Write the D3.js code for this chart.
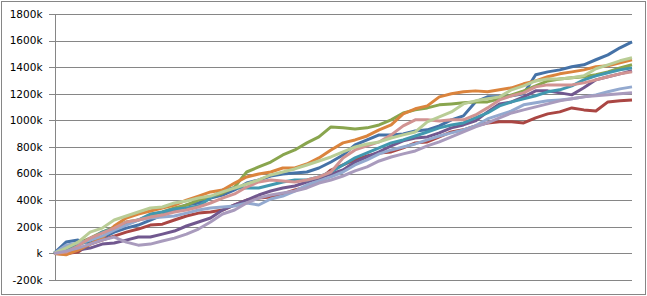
<!DOCTYPE html>
<html>
<head>
<meta charset="utf-8">
<script src="https://cdn.jsdelivr.net/npm/d3@7"></script>
<style>
  body { margin: 0; background: #fff; }
  .axis text { font-family: "DejaVu Sans", Verdana, sans-serif; font-size: 10.5px; fill: #000; }
</style>
</head>
<body>
<div class="canvas"></div>
<script>
// values in thousands at 49 evenly spaced steps
const blue = [0,85,100,78,115,160,190,213,251,288,326,364,379,416,439,477,529,552,582,597,605,612,642,687,740,816,853,891,891,898,921,929,959,1004,1034,1139,1177,1177,1185,1200,1343,1365,1380,1403,1418,1456,1493,1546,1591];
const red = [0,0,10,70,100,130,160,183,213,220,251,281,303,311,326,364,401,416,424,447,477,499,552,627,665,703,733,755,763,793,831,838,876,913,929,959,981,989,989,981,1019,1049,1064,1094,1079,1071,1139,1147,1154];
const green = [0,40,78,115,160,198,236,251,288,311,341,364,401,424,454,499,612,650,687,740,778,831,876,951,944,936,944,966,1004,1056,1079,1094,1117,1124,1132,1139,1139,1162,1192,1222,1260,1297,1312,1320,1328,1343,1365,1395,1418];
const purple = [0,-5,25,40,70,78,100,123,123,145,168,206,236,266,326,364,401,439,469,492,507,537,567,597,627,687,725,763,808,846,868,876,906,944,966,996,1064,1124,1139,1177,1222,1222,1207,1192,1245,1305,1328,1350,1373];
const teal = [0,25,62,100,160,190,220,251,296,311,334,341,356,416,477,492,492,492,514,537,552,552,575,612,665,718,755,793,831,853,883,913,944,966,981,1019,1056,1109,1139,1162,1185,1215,1230,1260,1305,1335,1358,1380,1395];
const orange = [0,-10,25,70,115,206,266,296,319,341,364,401,431,462,477,529,575,597,612,642,642,672,718,778,831,853,883,929,966,1049,1087,1109,1177,1200,1215,1222,1215,1230,1245,1275,1297,1328,1350,1365,1380,1403,1410,1433,1456];
const lightBlue = [0,62,78,100,130,175,213,251,266,273,281,303,326,341,349,356,379,364,409,431,469,514,544,575,612,665,703,748,778,800,823,853,883,906,929,959,1011,1041,1071,1117,1132,1147,1154,1162,1177,1192,1215,1237,1252];
const pink = [0,10,55,115,153,190,236,251,273,288,311,326,349,379,416,447,499,537,552,544,537,552,575,612,718,778,808,838,891,959,1004,1004,996,1004,1004,1041,1094,1154,1185,1207,1252,1267,1267,1267,1282,1305,1328,1350,1365];
const lightGreen = [0,40,85,160,190,251,281,311,341,349,379,394,416,431,462,492,522,552,590,612,635,665,695,725,763,800,823,838,868,891,913,989,1026,1064,1124,1147,1162,1177,1230,1260,1297,1312,1312,1320,1335,1388,1418,1448,1471];
const lavender = [0,17,40,70,100,123,85,62,70,93,115,145,183,236,296,326,379,416,439,454,469,492,529,552,582,620,650,695,725,748,770,808,838,876,913,951,981,1019,1056,1079,1102,1124,1147,1162,1177,1185,1192,1200,1207];

const series = [blue, red, green, purple, teal, orange, lightBlue, pink, lightGreen, lavender];
const colors = ["#4572A7", "#AA4643", "#89A54E", "#71588F", "#4198AF", "#DB843D", "#93A9CF", "#D19392", "#B9CD96", "#A99BBD"];
const yTicks = [-200, 0, 200, 400, 600, 800, 1000, 1200, 1400, 1600, 1800];

const W = 647, H = 296;
const plotLeft = 54, plotRight = 632, plotTop = 14, plotBottom = 280;

const svg = d3.select('.canvas')
  .append('svg')
  .attr('width', W)
  .attr('height', H);

svg.append('rect')
    .attr('x', 1.5).attr('y', 1.5)
    .attr('width', 644).attr('height', 293)
    .style('fill', '#fff')
    .style('stroke', '#868686');

const x = d3.scaleLinear().domain([0, blue.length - 1]).range([plotLeft, plotRight]);
const y = d3.scaleLinear().domain([-200, 1800]).range([plotBottom, plotTop]);

// gridlines
svg.append('g')
    .attr('transform', `translate(${plotRight},0)`)
    .call(d3.axisLeft(y).tickValues(yTicks).tickSize(plotRight - plotLeft + 5).tickFormat(''))
    .call(g => g.select('.domain').remove())
    .call(g => g.selectAll('line').style('stroke', '#868686').attr('shape-rendering', 'crispEdges'));

// y axis with labels
svg.append('g')
    .attr('class', 'axis')
    .attr('transform', `translate(${plotLeft + 0.5},0)`)
    .call(d3.axisLeft(y).tickValues(yTicks).tickSize(0).tickPadding(12)
      .tickFormat(d => d === 0 ? 'k' : d + 'k'))
    .call(g => g.select('.domain').style('stroke', '#868686').attr('shape-rendering', 'crispEdges'))
    .call(g => g.selectAll('line').remove());

const line = d3.line()
    .x((d, i) => x(i))
    .y(d => y(d));

svg.append('g')
  .selectAll('path')
  .data(series)
  .join('path')
    .attr('d', line)
    .style('fill', 'none')
    .style('stroke', (d, i) => colors[i])
    .style('stroke-width', 3)
    .style('stroke-linejoin', 'round');
</script>
</body>
</html>
